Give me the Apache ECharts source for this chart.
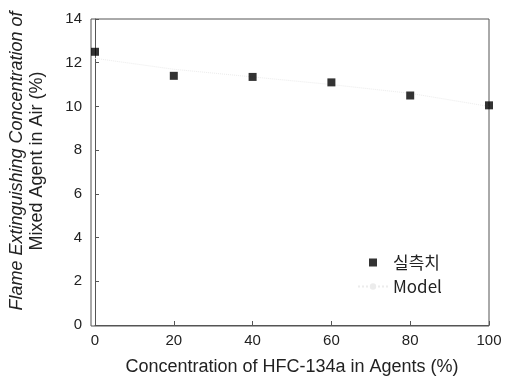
<!DOCTYPE html>
<html>
<head>
<meta charset="utf-8">
<script src="https://cdn.jsdelivr.net/npm/echarts@6/dist/echarts.min.js"></script>
<style>
  html, body { margin: 0; padding: 0; background: #fff; }
  #chart { width: 508px; height: 381px; }
</style>
</head>
<body>
<div id="chart"></div>
<script>
var xValues = [0, 20, 40, 60, 80, 100];
var measured = [12.5, 11.4, 11.35, 11.1, 10.5, 10.05];
var model = [12.2, 11.7, 11.35, 11.0, 10.6, 10.0];

var font = "Liberation Sans, Arial, sans-serif";
var axisColor = "#555";

var chart = echarts.init(document.getElementById("chart"));
chart.setOption({
  animation: false,
  backgroundColor: "#fff",
  grid: { left: 91, right: 19, top: 19, bottom: 55 },
  xAxis: {
    type: "value",
    min: 0,
    max: 100,
    interval: 20,
    name: "Concentration of HFC-134a in Agents (%)",
    nameLocation: "middle",
    nameGap: 33,
    nameTextStyle: { fontFamily: font, fontSize: 18, color: "#222" },
    axisLine: { show: true, lineStyle: { color: axisColor, width: 1 } },
    axisTick: { show: true, inside: true, length: 4, lineStyle: { color: axisColor } },
    axisLabel: { fontFamily: font, fontSize: 15, color: "#222", margin: 8 },
    splitLine: { show: false }
  },
  yAxis: {
    type: "value",
    min: 0,
    max: 14,
    interval: 2,
    name: "{a|Flame Extinguishing Concentration of}\n{b|Mixed Agent in Air (%)}",
    nameLocation: "middle",
    nameGap: 48,
    nameTextStyle: {
      fontFamily: font,
      fontSize: 18,
      color: "#222",
      padding: [0, 0, 0, 22],
      rich: {
        a: { fontFamily: font, fontSize: 18, fontStyle: "italic", color: "#222", lineHeight: 20 },
        b: { fontFamily: font, fontSize: 18, color: "#222", lineHeight: 20 }
      }
    },
    axisLine: { show: true, lineStyle: { color: axisColor, width: 1 } },
    axisTick: { show: true, inside: true, length: 4, lineStyle: { color: axisColor } },
    axisLabel: { fontFamily: font, fontSize: 15, color: "#222", margin: 13 },
    splitLine: { show: false }
  },
  legend: {
    orient: "vertical",
    left: 352,
    top: 249,
    itemGap: 7,
    itemWidth: 30,
    itemHeight: 8,
    symbolKeepAspect: true,
    textStyle: { fontFamily: "Noto Sans CJK KR, " + font, fontSize: 17, color: "#222" },
    data: [
      { name: "실측치", icon: "path://M0,0 L10,0 L10,10 L0,10 Z" },
      { name: "Model" }
    ]
  },
  graphic: [
    {
      type: "rect",
      shape: { x: 91, y: 19, width: 398, height: 307 },
      style: { fill: "none", stroke: axisColor, lineWidth: 1 },
      silent: true
    }
  ],
  series: [
    {
      name: "Model",
      type: "line",
      data: xValues.map(function (x, i) { return [x, model[i]]; }),
      symbol: "none",
      lineStyle: { color: "#ececec", width: 1, type: "dotted" },
      itemStyle: { color: "#ececec" },
      z: 1
    },
    {
      name: "실측치",
      type: "scatter",
      data: xValues.map(function (x, i) { return [x, measured[i]]; }),
      symbol: "rect",
      symbolSize: 8,
      itemStyle: { color: "#000" },
      clip: false,
      z: 3
    }
  ]
});
</script>
</body>
</html>
